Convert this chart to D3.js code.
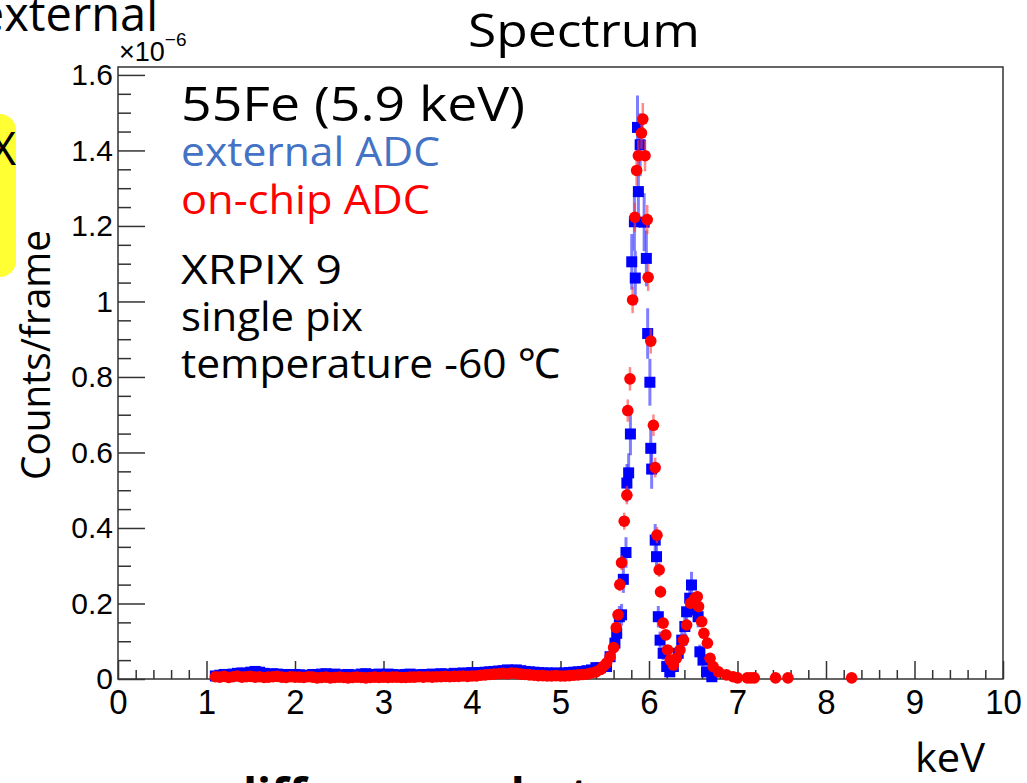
<!DOCTYPE html>
<html>
<head>
<meta charset="utf-8">
<script src="https://cdn.jsdelivr.net/npm/d3@7"></script>
<style>
  html, body { margin: 0; padding: 0; background: #fff; overflow: hidden; }
  svg { display: block; }
</style>
</head>
<body>
<svg id="chart" width="1027" height="783"></svg>
<script>
// ---------------- DATA (values in units of 1e-6 counts/frame) ----------------
const flatKeV = [
  1.10,1.15,1.20,1.25,1.30,1.35,1.40,1.45,1.50,1.55,1.60,1.65,1.70,1.75,1.80,1.85,1.90,1.95,2.00,
  2.05,2.10,2.15,2.20,2.25,2.30,2.35,2.40,2.45,2.50,2.55,2.60,2.65,2.70,2.75,2.80,2.85,2.90,2.95,3.00,
  3.05,3.10,3.15,3.20,3.25,3.30,3.35,3.40,3.45,3.50,3.55,3.60,3.65,3.70,3.75,3.80,3.85,3.90,3.95,4.00,
  4.05,4.10,4.15,4.20,4.25,4.30,4.35,4.40,4.45,4.50,4.55,4.60,4.65,4.70,4.75,4.80,4.85,4.90,4.95,5.00,
  5.05,5.10,5.15,5.20,5.25,5.30,5.35,5.40
];
const onchipFlat = [
  0.006,0.005,0.007,0.004,0.006,0.008,0.005,0.006,0.007,0.005,0.006,0.004,0.005,0.006,0.007,0.005,0.004,0.006,0.005,
  0.005,0.004,0.006,0.005,0.003,0.004,0.005,0.003,0.004,0.005,0.004,0.003,0.004,0.005,0.004,0.003,0.004,0.005,0.004,0.005,
  0.004,0.005,0.005,0.004,0.004,0.005,0.005,0.006,0.005,0.006,0.005,0.006,0.006,0.007,0.006,0.007,0.007,0.008,0.007,0.008,
  0.008,0.010,0.011,0.012,0.013,0.014,0.015,0.014,0.016,0.015,0.013,0.012,0.011,0.010,0.009,0.009,0.008,0.008,0.009,0.008,
  0.008,0.009,0.010,0.011,0.012,0.013,0.016,0.019
];
const externalFlat = [
  0.008,0.010,0.012,0.011,0.013,0.015,0.016,0.015,0.018,0.020,0.018,0.015,0.012,0.014,0.013,0.011,0.012,0.010,0.012,
  0.011,0.010,0.009,0.012,0.011,0.013,0.014,0.012,0.013,0.011,0.010,0.012,0.009,0.011,0.013,0.014,0.012,0.011,0.013,0.012,
  0.013,0.012,0.011,0.010,0.012,0.013,0.011,0.010,0.012,0.011,0.013,0.012,0.014,0.013,0.012,0.015,0.014,0.016,0.015,0.017,
  0.016,0.017,0.018,0.019,0.020,0.021,0.022,0.024,0.023,0.024,0.022,0.020,0.019,0.018,0.017,0.016,0.016,0.015,0.016,0.015,
  0.016,0.017,0.018,0.019,0.020,0.022,0.024,0.030
];
const onchipPeakKeV = [
  5.45,5.48,5.52,5.56,5.60,5.63,5.65,5.67,5.69,5.72,5.75,5.76,5.785,5.815,5.84,5.86,5.88,5.915,5.93,5.955,
  5.98,5.99,6.02,6.05,6.07,6.09,6.115,6.13,6.16,6.19,6.21,6.24,6.275,6.31,6.35,6.39,6.425,6.47,6.52,6.545,
  6.56,6.595,6.62,6.66,6.69,6.725,6.785,6.875,6.95,7.00,7.11,7.15,7.19,7.43,7.57,8.29
];
const onchipPeak = [
  0.025,0.033,0.042,0.059,0.083,0.136,0.170,0.250,0.308,0.418,0.487,0.711,0.795,1.004,1.223,1.347,1.386,1.446,1.483,1.386,
  1.217,1.064,0.895,0.672,0.560,0.381,0.289,0.231,0.148,0.117,0.077,0.050,0.037,0.055,0.077,0.103,0.143,0.201,0.214,0.218,
  0.192,0.152,0.121,0.095,0.055,0.033,0.019,0.011,0.006,0.003,0.003,0.003,0.003,0.003,0.003,0.003
];
const externalPeakKeV = [
  5.45,5.52,5.56,5.615,5.635,5.665,5.69,5.71,5.74,5.75,5.77,5.79,5.805,5.835,5.845,5.87,5.88,5.90,5.945,5.97,
  5.985,6.01,6.02,6.03,6.07,6.085,6.105,6.125,6.16,6.20,6.235,6.275,6.33,6.37,6.405,6.425,6.46,6.48,6.52,6.555,
  6.575,6.61,6.65,6.71
];
const externalPeak = [
  0.030,0.033,0.059,0.095,0.121,0.165,0.170,0.264,0.335,0.519,0.546,0.649,1.105,1.211,1.062,1.461,1.291,1.415,1.210,1.114,
  0.915,0.786,0.611,0.556,0.368,0.324,0.165,0.103,0.068,0.033,0.019,0.033,0.068,0.103,0.139,0.178,0.214,0.249,0.183,0.165,
  0.072,0.050,0.019,0.006
];
const xTicks = [0,1,2,3,4,5,6,7,8,9,10];
const xTickLabels = ["0","1","2","3","4","5","6","7","8","9","10"];
const yTicks = [0,0.2,0.4,0.6,0.8,1.0,1.2,1.4,1.6];
const yTickLabels = ["0","0.2","0.4","0.6","0.8","1","1.2","1.4","1.6"];
const legendLines = ["55Fe (5.9 keV)","external ADC","on-chip ADC"];
const infoLines = ["XRPIX 9","single pix","temperature -60 ℃"];

// ---------------- DRAWING ----------------
const svg = d3.select("#chart");
const X0 = 118, X1 = 1003, Y0 = 679, Y1 = 67;
const x = d3.scaleLinear().domain([0, 10]).range([X0, X1]);
const y = d3.scaleLinear().domain([0, 1.621]).range([Y0, Y1]);

const axisFont = "'Liberation Sans', Arial, sans-serif";
const textFont = "'Open Sans', 'Noto Sans', sans-serif";

// cropped background slide text
svg.append("text").attr("x", 158).attr("y", 31).attr("text-anchor", "end")
  .attr("font-family", textFont).attr("font-size", 47).attr("fill", "#000").text("external");
svg.append("rect").attr("x", -30).attr("y", 114).attr("width", 46).attr("height", 163)
  .attr("rx", 16).attr("fill", "#ffff33");
svg.append("text").attr("x", 16).attr("y", 165).attr("text-anchor", "end")
  .attr("font-family", textFont).attr("font-size", 46).attr("fill", "#000").text("X");

// frame
svg.append("rect").attr("x", X0).attr("y", Y1).attr("width", X1 - X0).attr("height", Y0 - Y1)
  .attr("fill", "none").attr("stroke", "#333").attr("stroke-width", 1.5);

// x axis minor ticks
const xMinor = [];
for (let i = 0; i <= 50; i++) if (i % 5 !== 0) xMinor.push(i / 5);
svg.append("g").attr("transform", `translate(0,${Y0})`)
  .call(d3.axisBottom(x).tickValues(xMinor).tickSize(-9).tickSizeOuter(0).tickFormat(""))
  .call(g => g.select(".domain").remove())
  .selectAll("line").attr("stroke", "#333").attr("stroke-width", 1.5);
// x axis major
svg.append("g").attr("transform", `translate(0,${Y0})`)
  .call(d3.axisBottom(x).tickValues(xTicks).tickSize(-18).tickSizeOuter(0).tickPadding(9)
    .tickFormat((d, i) => xTickLabels[i]))
  .call(g => g.select(".domain").remove())
  .call(g => g.selectAll("line").attr("stroke", "#333").attr("stroke-width", 1.5))
  .call(g => g.selectAll("text").attr("font-family", axisFont).attr("font-size", 33)
    .attr("fill", "#000").attr("transform", "scale(1,1.08)"));

// y axis minor
const yMinor = [];
for (let i = 0; i <= 32; i++) if (i % 4 !== 0) yMinor.push(i * 0.05);
svg.append("g").attr("transform", `translate(${X0},0)`)
  .call(d3.axisLeft(y).tickValues(yMinor).tickSize(-13).tickSizeOuter(0).tickFormat(""))
  .call(g => g.select(".domain").remove())
  .selectAll("line").attr("stroke", "#333").attr("stroke-width", 1.5);
svg.append("g").attr("transform", `translate(${X0},0)`)
  .call(d3.axisLeft(y).tickValues(yTicks).tickSize(-27).tickSizeOuter(0).tickPadding(5)
    .tickFormat((d, i) => yTickLabels[i]))
  .call(g => g.select(".domain").remove())
  .call(g => g.selectAll("line").attr("stroke", "#333").attr("stroke-width", 1.5))
  .call(g => g.selectAll("text").attr("font-family", axisFont).attr("font-size", 30).attr("fill", "#000"));

// exponent
const ex = svg.append("text").attr("x", 119).attr("y", 61).attr("font-family", axisFont).attr("fill", "#000");
ex.append("tspan").attr("font-size", 27).text("×10");
ex.append("tspan").attr("font-size", 19).attr("dy", -15).text("−6");

// data series
const external = flatKeV.map((k, i) => ({k, v: externalFlat[i]}))
  .concat(externalPeakKeV.map((k, i) => ({k, v: externalPeak[i]})));
const onchip = flatKeV.map((k, i) => ({k, v: onchipFlat[i]}))
  .concat(onchipPeakKeV.map((k, i) => ({k, v: onchipPeak[i]})));

// Poisson-like statistical error bars derived from the counts
const extErr = d => 0.07 * Math.sqrt(d.v);
const chipErr = d => 0.035 * Math.sqrt(d.v);

const gExt = svg.append("g");
gExt.selectAll("line").data(external).join("line")
  .attr("x1", d => x(d.k)).attr("x2", d => x(d.k))
  .attr("y1", d => y(d.v - extErr(d))).attr("y2", d => y(d.v + extErr(d)))
  .attr("stroke", "rgba(40,40,255,0.6)").attr("stroke-width", 3);
gExt.selectAll("rect").data(external).join("rect")
  .attr("x", d => x(d.k) - 5.5).attr("y", d => y(d.v) - 5.5).attr("width", 11).attr("height", 11)
  .attr("fill", "#0000ff");

const gChip = svg.append("g");
gChip.selectAll("line").data(onchip).join("line")
  .attr("x1", d => x(d.k)).attr("x2", d => x(d.k))
  .attr("y1", d => y(d.v - chipErr(d))).attr("y2", d => y(d.v + chipErr(d)))
  .attr("stroke", "rgba(255,60,60,0.6)").attr("stroke-width", 2.5);
gChip.selectAll("circle").data(onchip).join("circle")
  .attr("cx", d => x(d.k)).attr("cy", d => y(d.v)).attr("r", 5.8)
  .attr("fill", "#ff0000");

// titles and labels
function fitText(tx, ty, str, size, width, color, anchor) {
  return svg.append("text").attr("x", tx).attr("y", ty)
    .attr("font-family", textFont).attr("font-size", size).attr("fill", color || "#000")
    .attr("text-anchor", anchor || "start")
    .attr("textLength", width).attr("lengthAdjust", "spacingAndGlyphs").text(str);
}
fitText(468, 47, "Spectrum", 45, 232);
fitText(181, 121, legendLines[0], 48, 344);
fitText(181, 166, legendLines[1], 41, 259, "#4472c4");
fitText(181, 214, legendLines[2], 41, 249, "#ff0000");
fitText(181, 284, infoLines[0], 41, 161);
fitText(181, 331, infoLines[1], 41, 182);
fitText(181, 378, infoLines[2], 41, 379);
fitText(915, 772, "keV", 40, 70);
svg.append("text").attr("transform", "translate(50,355) rotate(-90)")
  .attr("text-anchor", "middle").attr("font-family", textFont).attr("font-size", 40)
  .attr("textLength", 250).attr("lengthAdjust", "spacingAndGlyphs").attr("fill", "#000")
  .text("Counts/frame");
// cropped slide text at the bottom
svg.append("text").attr("x", 228).attr("y", 812).attr("font-family", textFont)
  .attr("font-size", 46).attr("font-weight", "bold").attr("fill", "#000")
  .attr("textLength", 362).attr("lengthAdjust", "spacingAndGlyphs").text("differences, but");
</script>
</body>
</html>
